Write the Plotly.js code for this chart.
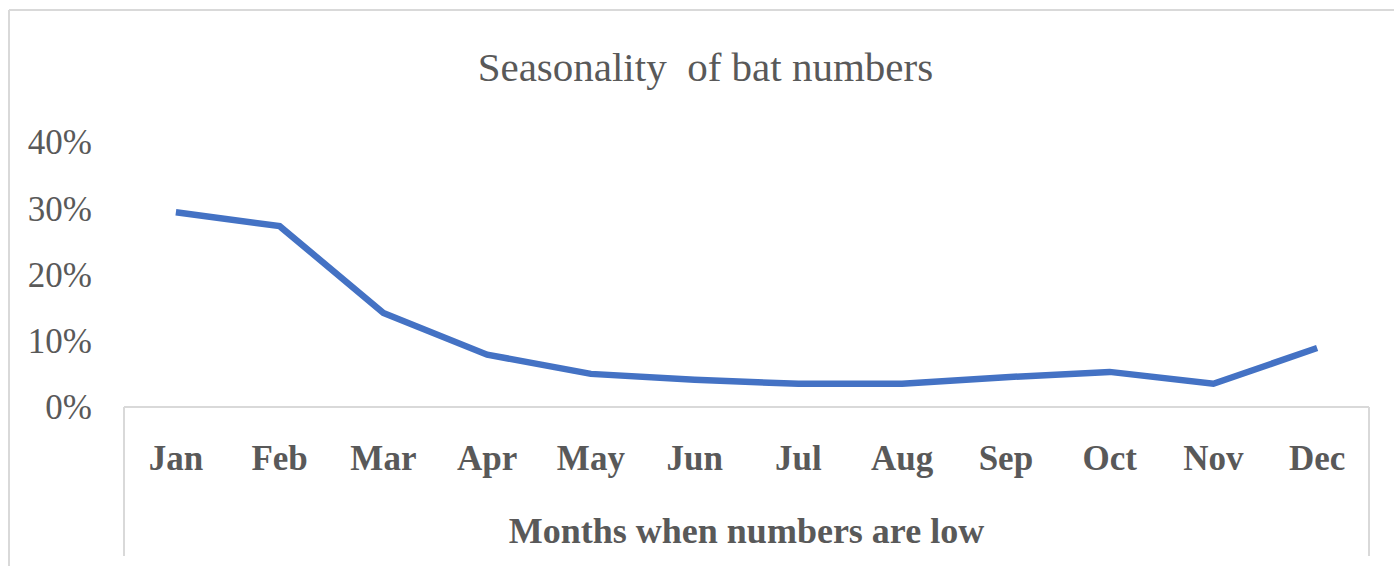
<!DOCTYPE html>
<html>
<head>
<meta charset="utf-8">
<script src="https://cdn.plot.ly/plotly-3.0.1.min.js"></script>
<style>html,body{margin:0;padding:0;background:#fff;}#chart{width:1394px;height:566px;}</style>
</head>
<body>
<div id="chart"></div>
<script>
const months = ["Jan","Feb","Mar","Apr","May","Jun","Jul","Aug","Sep","Oct","Nov","Dec"];
const batShare = [0.294, 0.273, 0.142, 0.079, 0.050, 0.041, 0.035, 0.035, 0.045, 0.053, 0.035, 0.089];
const yTicks = [0, 0.1, 0.2, 0.3, 0.4];
const yTickText = ["0%","10%","20%","30%","40%"];

const W = 1394, H = 566;
const L = 124, R = 25, T = 142, B = 159;
const pw = W - L - R, ph = H - T - B;
const px = v => (v - L) / pw;
const py = v => (H - B - v) / ph;
const frame = '#d9d9d9';

const trace = {
  x: months, y: batShare, type: 'scatter', mode: 'lines',
  line: {color: '#4472C4', width: 6.5},
  hoverinfo: 'skip'
};

const layout = {
  width: W, height: H,
  margin: {l: L, r: R, t: T, b: B, pad: 0},
  paper_bgcolor: '#ffffff', plot_bgcolor: '#ffffff',
  showlegend: false,
  title: {
    text: 'Seasonality&nbsp; of bat numbers',
    font: {family: 'Liberation Serif, Times New Roman, serif', size: 41, color: '#595959'},
    xref: 'container', yref: 'container', x: 0.506, y: 0.882, xanchor: 'center', yanchor: 'middle'
  },
  xaxis: {
    type: 'category', range: [-0.5, 11.5], showgrid: false, zeroline: false, showline: false,
    ticks: 'outside', ticklen: 20, tickcolor: 'rgba(0,0,0,0)',
    tickfont: {family: 'Liberation Serif, Times New Roman, serif', size: 35, color: '#595959', weight: 'bold'},
    title: {text: '<b>Months when numbers are low</b>', standoff: 40,
      font: {family: 'Liberation Serif, Times New Roman, serif', size: 36, color: '#595959'}},
    automargin: false, fixedrange: true
  },
  yaxis: {
    range: [0, 0.4], tickvals: yTicks, ticktext: yTickText, showgrid: false, zeroline: false, showline: false,
    ticks: 'outside', ticklen: 24, tickcolor: 'rgba(0,0,0,0)',
    tickfont: {family: 'Liberation Serif, Times New Roman, serif', size: 35, color: '#595959'},
    automargin: false, fixedrange: true
  },
  shapes: [
    {type: 'line', xref: 'paper', yref: 'paper', x0: px(9), x1: px(1394), y0: py(10), y1: py(10), line: {color: frame, width: 2}},
    {type: 'line', xref: 'paper', yref: 'paper', x0: px(9), x1: px(9), y0: py(10), y1: py(566), line: {color: frame, width: 2}},
    {type: 'line', xref: 'paper', yref: 'paper', x0: 0, x1: 1, y0: 0, y1: 0, line: {color: frame, width: 2}},
    {type: 'line', xref: 'paper', yref: 'paper', x0: 0, x1: 0, y0: 0, y1: py(556), line: {color: frame, width: 2}},
    {type: 'line', xref: 'paper', yref: 'paper', x0: 1, x1: 1, y0: 0, y1: py(556), line: {color: frame, width: 2}}
  ]
};

Plotly.newPlot('chart', [trace], layout, {displayModeBar: false, staticPlot: true});
</script>
</body>
</html>
